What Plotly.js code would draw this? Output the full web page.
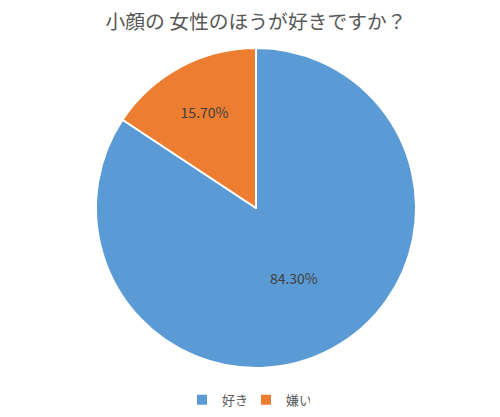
<!DOCTYPE html>
<html>
<head>
<meta charset="utf-8">
<script src="https://cdn.plot.ly/plotly-3.0.1.min.js"></script>
<style>html,body{margin:0;padding:0;background:#fff;}</style>
</head>
<body>
<div id="chart" style="width:500px;height:417px;"></div>
<script>
const categories = ["好き", "嫌い"];
const values = [84.3, 15.7];
const colors = ["#5B9BD5", "#ED7D31"];
const titleText = "小顔の 女性のほうが好きですか？";

const font = '"Noto Sans CJK JP", "Noto Sans", sans-serif';

Plotly.newPlot('chart', [{
  type: 'pie',
  labels: categories,
  values: values,
  sort: false,
  direction: 'clockwise',
  rotation: 0,
  domain: {x: [0.192, 0.832], y: [0.1175, 0.885]},
  marker: {colors: colors, line: {color: '#ffffff', width: 2}},
  texttemplate: '%{percent:.2%}',
  textposition: 'inside',
  insidetextorientation: 'horizontal',
  textfont: {family: font, size: 14, color: '#404040'},
  hoverinfo: 'label+percent'
}], {
  width: 500,
  height: 417,
  margin: {l: 0, r: 0, t: 0, b: 0},
  paper_bgcolor: '#ffffff',
  title: {
    text: titleText,
    font: {family: font, size: 19.8, color: '#595959'},
    x: 0.512, xanchor: 'center',
    y: 0.947, yanchor: 'middle'
  },
  showlegend: true,
  legend: {
    orientation: 'h',
    x: 0.492, xanchor: 'center',
    y: 0.041, yanchor: 'middle',
    font: {family: font, size: 13, color: '#595959'},
    itemwidth: 30,
    entrywidth: 19,
    entrywidthmode: 'pixels'
  }
}, {displayModeBar: false});
</script>
</body>
</html>
